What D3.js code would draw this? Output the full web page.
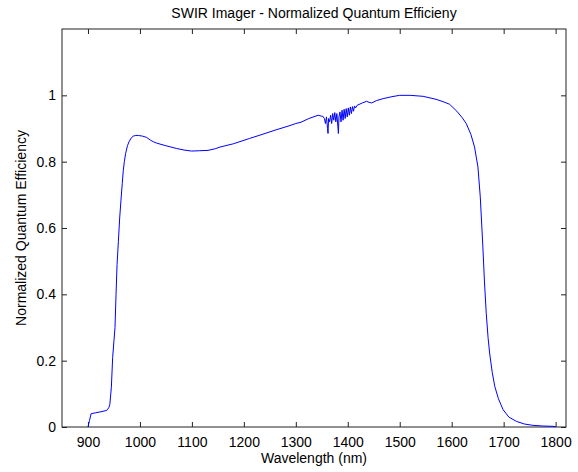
<!DOCTYPE html>
<html>
<head>
<meta charset="utf-8">
<script src="https://cdn.jsdelivr.net/npm/d3@7"></script>
<style>
  body { margin: 0; background: #fff; }
  svg { font-family: "Liberation Sans", Arial, Helvetica, sans-serif; }
  .axis path, .axis line { stroke: #222; }
  .axis text { fill: #000; font-size: 14px; }
</style>
</head>
<body>
<script>
let w = 578;
let h = 472;
let margin = {left: 62, right: 12, top: 29, bottom: 45};

// wavelength in nm
var wavelength = [
  900, 903, 906, 915, 925, 936, 940, 942, 945, 947.5, 950, 952, 954, 956, 958.5, 961, 963.5, 966, 968, 970,
  972.5, 976, 979, 983, 987, 992, 997, 1005, 1013, 1020, 1026, 1032, 1050, 1070, 1085, 1099, 1115, 1131, 1145, 1154,
  1180, 1211, 1231, 1260, 1285, 1300, 1310, 1325, 1343, 1350,
  1352, 1355, 1357, 1359, 1361, 1362, 1363, 1365, 1367, 1369, 1371, 1373, 1375, 1377, 1379, 1381, 1382, 1383,
  1385, 1387, 1389, 1391, 1393, 1395, 1397, 1399, 1401, 1403, 1405, 1407, 1409, 1411, 1413, 1415, 1418,
  1428, 1436, 1441, 1446, 1455, 1468, 1485, 1500, 1520, 1545, 1570, 1585, 1596, 1610, 1620, 1628, 1637, 1644,
  1650.5, 1655, 1660, 1663, 1666.5, 1670, 1673, 1678, 1683, 1690, 1699, 1710, 1724.5, 1740, 1756, 1775, 1795, 1800
];

// normalized quantum efficiency
var qe = [
  0, 0.02, 0.04, 0.043, 0.046, 0.05, 0.058, 0.067, 0.12, 0.21, 0.26, 0.30, 0.40, 0.49, 0.56, 0.63, 0.684, 0.735, 0.774, 0.80,
  0.825, 0.848, 0.86, 0.871, 0.877, 0.879, 0.879, 0.877, 0.873, 0.865, 0.86, 0.856, 0.848, 0.840, 0.835, 0.832, 0.833, 0.834, 0.839, 0.844,
  0.854, 0.870, 0.88, 0.895, 0.907, 0.915, 0.919, 0.930, 0.94, 0.937,
  0.937, 0.930, 0.915, 0.935, 0.900, 0.885, 0.930, 0.920, 0.940, 0.915, 0.945, 0.925, 0.948, 0.920, 0.945, 0.905, 0.885, 0.935,
  0.950, 0.920, 0.955, 0.925, 0.958, 0.930, 0.960, 0.935, 0.962, 0.940, 0.965, 0.945, 0.966, 0.952, 0.968, 0.962, 0.970,
  0.977, 0.982, 0.979, 0.977, 0.984, 0.99, 0.996, 1.0, 1.0, 0.997, 0.988, 0.98, 0.973, 0.952, 0.933, 0.915, 0.882, 0.844,
  0.784, 0.694, 0.543, 0.44, 0.343, 0.27, 0.223, 0.165, 0.122, 0.085, 0.052, 0.03, 0.017, 0.009, 0.005, 0.003, 0.002, 0.001
];

var xTicks = [900, 1000, 1100, 1200, 1300, 1400, 1500, 1600, 1700, 1800];
var yTicks = [0, 0.2, 0.4, 0.6, 0.8, 1];

var data = wavelength.map(function(d, i) { return {x: d, y: qe[i]}; });

let svg = d3.select("body").append("svg").attr("width", w).attr("height", h);

let xScale = d3.scaleLinear().domain([850, 1820]).range([margin.left, w - margin.right]);
let yScale = d3.scaleLinear().domain([0, 1.2]).range([h - margin.bottom, margin.top]);

let tick = 5;

// box
svg.append("rect")
  .attr("x", margin.left)
  .attr("y", margin.top)
  .attr("width", w - margin.right - margin.left)
  .attr("height", h - margin.bottom - margin.top)
  .attr("fill", "none")
  .attr("stroke", "#222");

// axes (ticks point inward)
svg.append("g")
  .attr("class", "axis")
  .attr("transform", "translate(0," + (h - margin.bottom) + ")")
  .call(d3.axisBottom(xScale).tickValues(xTicks).tickSizeInner(-tick).tickSizeOuter(0).tickPadding(10).tickFormat(d3.format("d")));

svg.append("g")
  .attr("class", "axis")
  .attr("transform", "translate(0," + margin.top + ")")
  .call(d3.axisTop(xScale).tickValues(xTicks).tickSizeInner(-tick).tickSizeOuter(0).tickFormat(""));

svg.append("g")
  .attr("class", "axis")
  .attr("transform", "translate(" + margin.left + ",0)")
  .call(d3.axisLeft(yScale).tickValues(yTicks).tickSizeInner(-tick).tickSizeOuter(0).tickPadding(6).tickFormat(d3.format("~g")));

svg.append("g")
  .attr("class", "axis")
  .attr("transform", "translate(" + (w - margin.right) + ",0)")
  .call(d3.axisRight(yScale).tickValues(yTicks).tickSizeInner(-tick).tickSizeOuter(0).tickFormat(""));

svg.selectAll(".axis .domain").remove();

// curve
var line = d3.line()
  .x(function(d) { return xScale(d.x); })
  .y(function(d) { return yScale(d.y); });

svg.append("path")
  .datum(data)
  .attr("d", line)
  .attr("fill", "none")
  .attr("stroke", "#0000ff")
  .attr("stroke-width", 1);

// title
svg.append("text")
  .text("SWIR Imager - Normalized Quantum Efficieny")
  .attr("x", (margin.left + w - margin.right) / 2)
  .attr("y", 18)
  .style("font-size", "14px")
  .style("text-anchor", "middle");

// x label
svg.append("text")
  .text("Wavelength (nm)")
  .attr("x", (margin.left + w - margin.right) / 2)
  .attr("y", 463)
  .style("font-size", "14px")
  .style("text-anchor", "middle");

// y label
svg.append("text")
  .text("Normalized Quantum Efficiency")
  .attr("transform", "translate(26," + ((margin.top + h - margin.bottom) / 2) + ") rotate(-90)")
  .style("font-size", "14px")
  .style("text-anchor", "middle");
</script>
</body>
</html>
